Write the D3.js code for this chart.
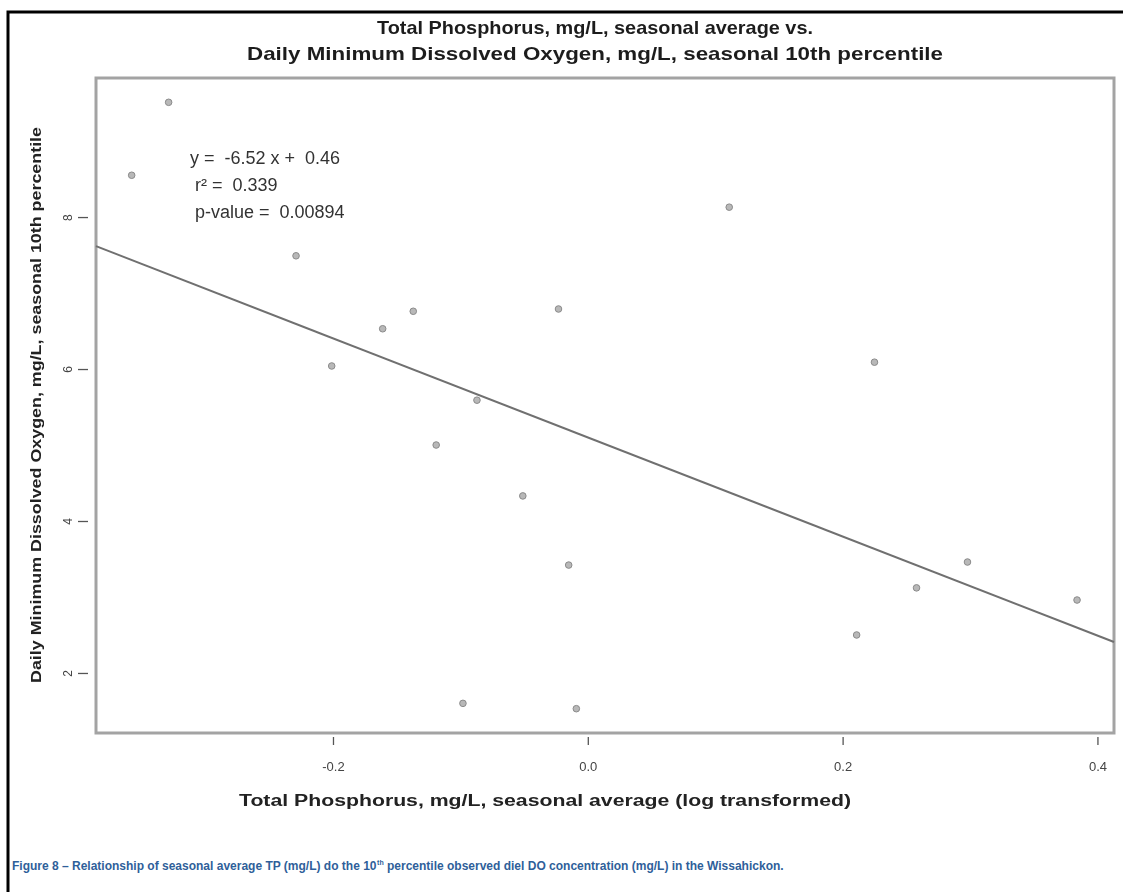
<!DOCTYPE html>
<html>
<head>
<meta charset="utf-8">
<script src="https://cdn.jsdelivr.net/npm/d3@7"></script>
<style>
  html, body { margin: 0; padding: 0; background: #fff; }
  svg { display: block; }
  .pre { white-space: pre; }
</style>
</head>
<body>
<svg id="chart" width="1123" height="892"></svg>
<script>
// Seasonal average total phosphorus (log transformed) for each site-season
const tpLog = [-0.329, -0.358, -0.229, -0.161, -0.137, -0.201, -0.023, -0.087, -0.119, -0.051,
               -0.015, -0.098, -0.009, 0.111, 0.225, 0.258, 0.298, 0.384, 0.211];
// Daily minimum dissolved oxygen, seasonal 10th percentile (mg/L)
const doP10 = [9.51, 8.55, 7.49, 6.53, 6.76, 6.04, 6.79, 5.59, 5.00, 4.33,
               3.42, 1.60, 1.53, 8.13, 6.09, 3.12, 3.46, 2.96, 2.50];

const xTicks = [-0.2, 0.0, 0.2, 0.4];
const yTicks = [2, 4, 6, 8];

// Least-squares fit
const fitSlope = [-6.52];
const fitIntercept = [5.10];

const statLines = ["y =  -6.52 x +  0.46", " r\u00B2 =  0.339", " p-value =  0.00894"];

const titleLines = ["Total Phosphorus, mg/L, seasonal average vs.",
                    "Daily Minimum Dissolved Oxygen, mg/L, seasonal 10th percentile"];
const xLabel = "Total Phosphorus, mg/L, seasonal average (log transformed)";
const yLabel = "Daily Minimum Dissolved Oxygen, mg/L, seasonal 10th percentile";

const svg = d3.select("#chart");
const plot = { left: 96, top: 78, right: 1114, bottom: 733 };

const x = d3.scaleLinear().domain([-0.386, 0.413]).range([plot.left, plot.right]);
const y = d3.scaleLinear().domain([1.21, 9.83]).range([plot.bottom, plot.top]);

const tickFmt = d => d3.format(".1f")(d).replace("\u2212", "-");

// outer page frame
svg.append("rect")
  .attr("x", 8).attr("y", 12).attr("width", 1300).attr("height", 1000)
  .attr("fill", "none").attr("stroke", "#000").attr("stroke-width", 3);

const soft = svg.append("defs").append("filter").attr("id", "soft");
soft.append("feGaussianBlur").attr("stdDeviation", 0.5);

const g = svg.append("g").attr("filter", "url(#soft)");

// title
g.selectAll("text.title").data(titleLines).join("text")
  .attr("class", "title")
  .attr("x", 595).attr("y", (d, i) => 34 + i * 26)
  .attr("text-anchor", "middle")
  .attr("font-family", "Liberation Sans, Arial, sans-serif")
  .attr("font-weight", "bold").attr("font-size", 19)
  .attr("fill", "#1e1e1e")
  .attr("textLength", (d, i) => i === 0 ? 436 : 696)
  .attr("lengthAdjust", "spacingAndGlyphs")
  .text(d => d);

// plot box
g.append("rect")
  .attr("x", plot.left).attr("y", plot.top)
  .attr("width", plot.right - plot.left).attr("height", plot.bottom - plot.top)
  .attr("fill", "none").attr("stroke", "#a3a3a3").attr("stroke-width", 3);

// x axis: ticks below the box
const xAxis = d3.axisBottom(x).tickValues(xTicks).tickFormat(tickFmt)
  .tickSize(8).tickPadding(17);
const gx = g.append("g").attr("transform", `translate(0,${plot.bottom + 4})`).call(xAxis);
gx.select(".domain").remove();
gx.selectAll(".tick line").attr("stroke", "#555").attr("stroke-width", 1.3);
gx.selectAll(".tick text")
  .attr("font-family", "Liberation Sans, Arial, sans-serif")
  .attr("font-size", 13).attr("fill", "#444");

// y axis: ticks left of the box, labels rotated
const yAxis = d3.axisLeft(y).tickValues(yTicks).tickFormat(d3.format("d"))
  .tickSize(10).tickPadding(8);
const gy = g.append("g").attr("transform", `translate(${plot.left - 8},0)`).call(yAxis);
gy.select(".domain").remove();
gy.selectAll(".tick line").attr("stroke", "#555").attr("stroke-width", 1.3);
gy.selectAll(".tick text")
  .attr("font-family", "Liberation Sans, Arial, sans-serif")
  .attr("font-size", 12).attr("fill", "#444")
  .attr("text-anchor", "middle")
  .attr("x", null).attr("dy", null)
  .attr("transform", "translate(-20,0) rotate(-90)")
  .attr("dominant-baseline", "central");

// axis titles
g.append("text")
  .attr("x", 545).attr("y", 806)
  .attr("text-anchor", "middle")
  .attr("font-family", "Liberation Sans, Arial, sans-serif")
  .attr("font-weight", "bold").attr("font-size", 16)
  .attr("fill", "#222")
  .attr("textLength", 612).attr("lengthAdjust", "spacingAndGlyphs")
  .text(xLabel);

g.append("text")
  .attr("transform", "translate(41,405) rotate(-90)")
  .attr("text-anchor", "middle")
  .attr("font-family", "Liberation Sans, Arial, sans-serif")
  .attr("font-weight", "bold").attr("font-size", 15)
  .attr("fill", "#222")
  .attr("textLength", 556).attr("lengthAdjust", "spacingAndGlyphs")
  .text(yLabel);

// regression line across the plotting region
const lineX = x.domain();
g.append("line")
  .attr("x1", x(lineX[0])).attr("y1", y(fitIntercept[0] + fitSlope[0] * lineX[0]))
  .attr("x2", x(lineX[1])).attr("y2", y(fitIntercept[0] + fitSlope[0] * lineX[1]))
  .attr("stroke", "#707070").attr("stroke-width", 2);

// observations
g.selectAll("circle.obs").data(tpLog).join("circle")
  .attr("class", "obs")
  .attr("cx", d => x(d))
  .attr("cy", (d, i) => y(doP10[i]))
  .attr("r", 3.3)
  .attr("fill", "#b8b8b8").attr("stroke", "#8a8a8a").attr("stroke-width", 1);

// fit statistics
const stats = g.append("text")
  .attr("class", "pre")
  .attr("font-family", "Liberation Sans, Arial, sans-serif")
  .attr("font-size", 18).attr("fill", "#333");
statLines.forEach((s, i) => {
  stats.append("tspan")
    .attr("class", "pre")
    .attr("x", 190).attr("y", 164 + i * 27)
    .text(s);
});

// figure caption
const cap = svg.append("text")
  .attr("x", 12).attr("y", 870)
  .attr("font-family", "Liberation Sans, Arial, sans-serif")
  .attr("font-weight", "bold").attr("font-size", 12)
  .attr("fill", "#2f5f9a");
cap.append("tspan").text("Figure 8 \u2013 Relationship of seasonal average TP (mg/L) do the 10");
cap.append("tspan").attr("font-size", 7).attr("dy", -5).attr("dx", 0.5).text("th");
cap.append("tspan").attr("dy", 5).text(" percentile observed diel DO concentration (mg/L) in the Wissahickon.");
</script>
</body>
</html>
